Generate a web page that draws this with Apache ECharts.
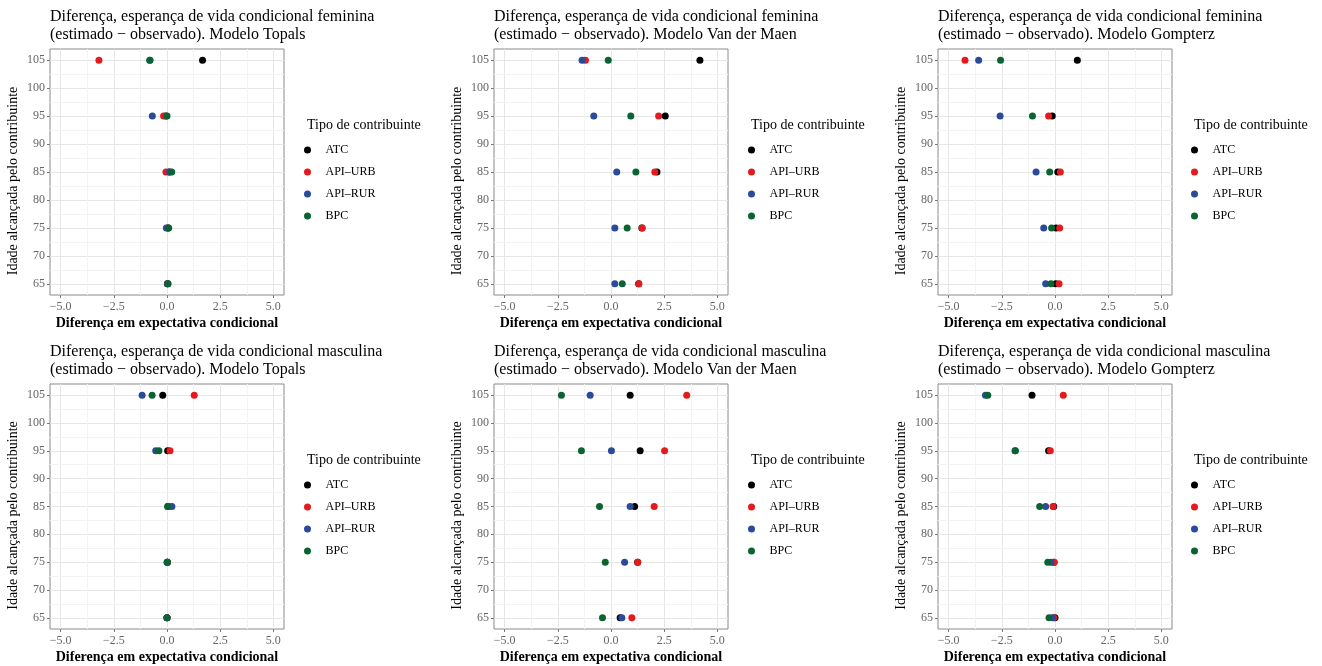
<!DOCTYPE html>
<html>
<head>
<meta charset="utf-8">
<script src="https://cdn.jsdelivr.net/npm/echarts@6/dist/echarts.min.js"></script>
<style>
  html, body { margin: 0; padding: 0; background: #fff; }
  #main { width: 1322px; height: 666px; }
</style>
</head>
<body>
<div id="main"></div>
<script>
// idades (eixo y) e tipos de contribuinte
var ages = [65, 75, 85, 95, 105];
var tipos = ['ATC', 'API–URB', 'API–RUR', 'BPC'];
var cores = ['#000000', '#E41A1C', '#2A4B9B', '#0A6431'];
var xTicks = [-5, -2.5, 0, 2.5, 5];
var yTicks = [65, 70, 75, 80, 85, 90, 95, 100, 105];
var xMinor = [-3.75, -1.25, 1.25, 3.75];
var yMinor = [67.5, 72.5, 77.5, 82.5, 87.5, 92.5, 97.5, 102.5];

// diferenças (estimado - observado) por tipo: ATC, API-URB, API-RUR, BPC; idades 65..105
var femTopals = [
    [0.02, 0.05, 0.10, -0.05, 1.67],
    [0.02, 0.05, -0.05, -0.16, -3.20],
    [0.03, -0.03, 0.12, -0.69, -0.80],
    [0.05, 0.08, 0.22, 0.00, -0.81]
];
var femVdm = [
    [1.30, 1.45, 2.16, 2.55, 4.18],
    [1.31, 1.47, 2.06, 2.24, -1.20],
    [0.18, 0.18, 0.27, -0.81, -1.36],
    [0.53, 0.76, 1.17, 0.93, -0.13]
];
var femGomp = [
    [0.03, 0.05, 0.13, -0.13, 1.05],
    [0.19, 0.22, 0.25, -0.30, -4.23],
    [-0.44, -0.53, -0.89, -2.58, -3.59],
    [-0.19, -0.16, -0.25, -1.06, -2.56]
];
var mascTopals = [
    [0.00, 0.02, 0.05, 0.03, -0.20],
    [0.00, 0.02, 0.05, 0.14, 1.28],
    [0.00, 0.00, 0.23, -0.53, -1.17],
    [0.00, 0.02, 0.03, -0.38, -0.70]
];
var mascVdm = [
    [0.43, 1.25, 1.11, 1.37, 0.90],
    [0.98, 1.26, 2.03, 2.52, 3.56],
    [0.51, 0.64, 0.90, 0.02, -0.98],
    [-0.40, -0.27, -0.54, -1.39, -2.33]
];
var mascGomp = [
    [0.00, -0.06, -0.06, -0.30, -1.08],
    [-0.06, -0.03, -0.09, -0.22, 0.39],
    [-0.12, -0.19, -0.44, -1.88, -3.27],
    [-0.28, -0.34, -0.72, -1.86, -3.16]
];

var titulos = [
    'Diferença, esperança de vida condicional feminina\n(estimado − observado). Modelo Topals',
    'Diferença, esperança de vida condicional feminina\n(estimado − observado). Modelo Van der Maen',
    'Diferença, esperança de vida condicional feminina\n(estimado − observado). Modelo Gompterz',
    'Diferença, esperança de vida condicional masculina\n(estimado − observado). Modelo Topals',
    'Diferença, esperança de vida condicional masculina\n(estimado − observado). Modelo Van der Maen',
    'Diferença, esperança de vida condicional masculina\n(estimado − observado). Modelo Gompterz'
];
var paineis = [femTopals, femVdm, femGomp, mascTopals, mascVdm, mascGomp];

var fonte = 'Liberation Serif';
var lefts = [50, 494, 938];
var legLefts = [304, 748, 1191];
var tops = [49, 384];

// linhas menores da grade (marcadas pelas escalas do eixo)
var minorLines = xMinor.map(function (v) { return { xAxis: v }; })
    .concat(yMinor.map(function (v) { return { yAxis: v }; }));

var option = {
    animation: false,
    backgroundColor: '#fff',
    textStyle: { fontFamily: fonte },
    title: [], legend: [], grid: [], xAxis: [], yAxis: [], series: []
};

paineis.forEach(function (dados, p) {
    var col = p % 3, row = Math.floor(p / 3);
    var left = lefts[col], top = tops[row];
    option.title.push({
        text: titulos[p],
        left: left, top: top - 41, padding: 0,
        textStyle: { fontFamily: fonte, fontSize: 16, fontWeight: 'normal', color: '#000', lineHeight: 18 }
    });
    option.title.push({
        text: 'Tipo de contribuinte',
        left: legLefts[col] + 3, top: top + 69, padding: 0,
        textStyle: { fontFamily: fonte, fontSize: 14, fontWeight: 'normal', color: '#000' }
    });
    option.legend.push({
        orient: 'vertical',
        left: legLefts[col], top: top + 95,
        padding: 0,
        itemWidth: 26, itemHeight: 7, itemGap: 10,
        icon: 'circle',
        selectedMode: false,
        data: tipos,
        textStyle: { fontFamily: fonte, fontSize: 12, color: '#000' }
    });
    option.grid.push({
        left: left, top: top, width: 234, height: row === 0 ? 246 : 245,
        show: true, borderColor: '#8a8a8a', borderWidth: 1, backgroundColor: '#fff',
        containLabel: false
    });
    option.xAxis.push({
        type: 'value', gridIndex: p,
        min: -5.5, max: 5.5,
        name: 'Diferença em expectativa condicional',
        nameLocation: 'middle', nameGap: 21,
        nameTextStyle: { fontFamily: fonte, fontSize: 14, fontWeight: 'bold', color: '#000' },
        axisLine: { show: false, onZero: false },
        axisTick: { show: true, length: 3, customValues: xTicks, lineStyle: { color: '#777' } },
        axisLabel: {
            customValues: xTicks,
            margin: 6, fontFamily: fonte, fontSize: 12, color: '#666',
            formatter: function (v) { return v.toFixed(1).replace('-', '−'); }
        },
        splitLine: { show: true, lineStyle: { color: '#e6e6e6', width: 1 } }
    });
    option.yAxis.push({
        type: 'value', gridIndex: p,
        min: 63, max: 107,
        name: 'Idade alcançada pelo contribuinte',
        nameLocation: 'middle', nameGap: 30,
        nameTextStyle: { fontFamily: fonte, fontSize: 14, color: '#000', padding: [0, 18, 0, 0] },
        axisLine: { show: false, onZero: false },
        axisTick: { show: true, length: 3, customValues: yTicks, lineStyle: { color: '#777' } },
        axisLabel: {
            customValues: yTicks,
            margin: 5, fontFamily: fonte, fontSize: 12, color: '#666'
        },
        splitLine: { show: true, lineStyle: { color: '#e6e6e6', width: 1 } }
    });
    option.series.push({
        type: 'scatter', xAxisIndex: p, yAxisIndex: p, data: [], silent: true,
        markLine: {
            silent: true, z: 1, symbol: 'none', animation: false,
            label: { show: false },
            lineStyle: { color: '#f3f3f3', width: 1, type: 'solid' },
            emphasis: { disabled: true },
            data: minorLines
        }
    });
    dados.forEach(function (vals, s) {
        option.series.push({
            type: 'scatter', name: tipos[s],
            xAxisIndex: p, yAxisIndex: p,
            symbolSize: 7,
            itemStyle: { color: cores[s], opacity: 1 },
            data: ages.map(function (a, i) { return [vals[i], a]; })
        });
    });
});

var myChart = echarts.init(document.getElementById('main'));
myChart.setOption(option);
</script>
</body>
</html>
